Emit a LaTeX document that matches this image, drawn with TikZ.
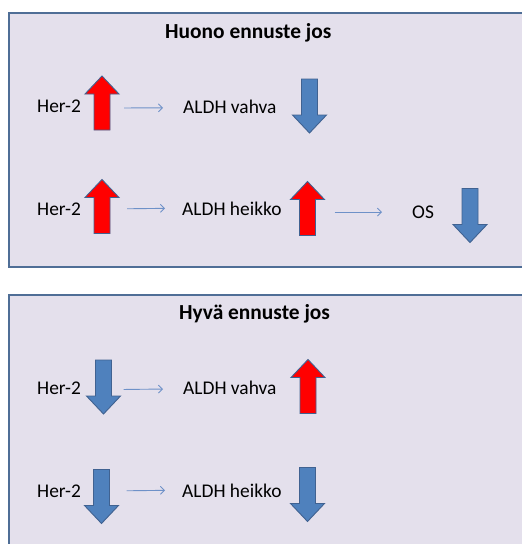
\documentclass[tikz,border=0pt]{standalone}
\usepackage{fontspec}
\setmainfont{Carlito}
\usetikzlibrary{arrows.meta,calc}
\definecolor{boxfill}{RGB}{228,224,236}
\definecolor{boxline}{RGB}{79,110,150}
\definecolor{redfill}{RGB}{255,0,0}
\definecolor{bluefill}{RGB}{79,129,189}
\definecolor{arrline}{RGB}{64,98,145}
\definecolor{connc}{RGB}{110,145,200}
\tikzset{
  panel/.style={fill=boxfill,draw=boxline,line width=2pt},
  lbl/.style={anchor=base west,inner sep=0pt,font=\fontsize{19.4}{23}\selectfont},
  ttl/.style={anchor=base west,inner sep=0pt,font=\bfseries\fontsize{21.4}{25}\selectfont},
  conn/.style={draw=connc,line width=0.9pt,-{Straight Barb[length=4pt,width=8pt]}},
  abox/.style={minimum width=34pt,minimum height=54pt,inner sep=0pt,draw=none},
  upfill/.style={fill=redfill,draw=arrline,line width=0.9pt,line join=miter},
  downfill/.style={fill=bluefill,draw=arrline,line width=0.9pt,line join=miter}
}
\newcommand{\uparrowshape}[1]{%
  \path[upfill] ($(#1.center)+(-8,27)$) -- ($(#1.center)+(-8,-9)$) -- ($(#1.center)+(-17,-9)$)
    -- ($(#1.center)+(0,-27)$) -- ($(#1.center)+(17,-9)$) -- ($(#1.center)+(8,-9)$)
    -- ($(#1.center)+(8,27)$) -- cycle;}
\newcommand{\downarrowshape}[1]{%
  \path[downfill] ($(#1.center)+(-8,-27)$) -- ($(#1.center)+(-8,9)$) -- ($(#1.center)+(-17,9)$)
    -- ($(#1.center)+(0,27)$) -- ($(#1.center)+(17,9)$) -- ($(#1.center)+(8,9)$)
    -- ($(#1.center)+(8,-27)$) -- cycle;}
\begin{document}
\begin{tikzpicture}[x=1pt,y=-1pt]
\useasboundingbox (0,0) rectangle (522,544);
\clip (0,0) rectangle (522,544);
% panels
\path[panel] (9,13) rectangle (545,267);
\path[panel] (9,295) rectangle (545,570);
% top panel
\node[ttl] (t1) at (165,38.3) {Huono ennuste jos};
\node[lbl] (h1) at (37,112.7) {Her-2};
\node[abox] (a1) at (102,103) {};
\node[lbl] (l1) at (183,113) {ALDH vahva};
\node[abox] (b1) at (309.5,106) {};
\node[lbl] (h2) at (37,215) {Her-2};
\node[abox] (a2) at (102,206.5) {};
\node[lbl] (l2) at (182,215) {ALDH heikko};
\node[abox] (b2) at (307.5,208.5) {};
\node[lbl] (os) at (412,218.3) {OS};
\node[abox] (c2) at (470,215.5) {};
\uparrowshape{a1}
\downarrowshape{b1}
\uparrowshape{a2}
\uparrowshape{b2}
\downarrowshape{c2}
\draw[conn] ($(a1.east |- h1.west)+(5,1.5)$) -- ($(l1.west)+(-20,1.5)$);
\draw[conn] ($(a2.east |- h2.west)+(8,0)$) -- ($(l2.west)+(-17,0)$);
\draw[conn] ($(b2.east |- os.west)+(10,0)$) -- ($(os.west)+(-30,0)$);
% bottom panel
\node[ttl] (t2) at (179,319.7) {Hyvä ennuste jos};
\node[lbl] (h3) at (37,394.7) {Her-2};
\node[abox] (a3) at (103.5,387) {};
\node[lbl] (l3) at (183,394.7) {ALDH vahva};
\node[abox] (b3) at (308,386.5) {};
\node[lbl] (h4) at (37,497) {Her-2};
\node[abox] (a4) at (101.5,496.5) {};
\node[lbl] (l4) at (182,497) {ALDH heikko};
\node[abox] (b4) at (307.5,494.5) {};
\downarrowshape{a3}
\uparrowshape{b3}
\downarrowshape{a4}
\downarrowshape{b4}
\draw[conn] ($(a3.east |- h3.west)+(3,1)$) -- ($(l3.west)+(-20,1)$);
\draw[conn] ($(a4.east |- h4.west)+(8,0)$) -- ($(l4.west)+(-17,0)$);
\end{tikzpicture}
\end{document}
